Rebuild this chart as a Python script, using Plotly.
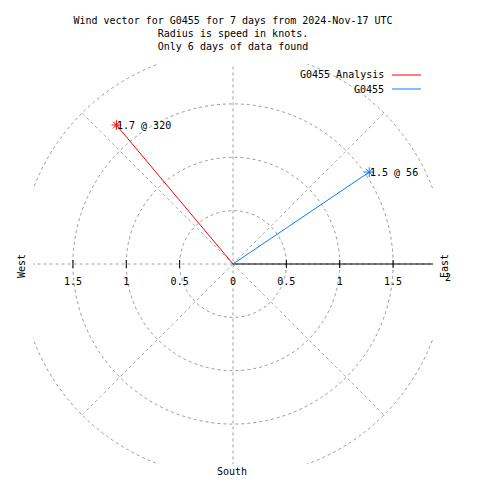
import numpy as np
import plotly.graph_objects as go

# ---- data ----
series_names = ["G0455 Analysis", "G0455"]
speeds_kt = [1.7, 1.54]
directions_deg = [320, 56]
tick_values = [-1.5, -1, -0.5, 0, 0.5, 1, 1.5]
tick_labels = ["1.5", "1", "0.5", "0", "0.5", "1", "1.5"]
grid_radii = [0.5, 1, 1.5, 2]
ray_angles_deg = [45, 135, 225, 315]
title_lines = ["Wind vector for G0455 for 7 days from 2024-Nov-17 UTC",
               "Radius is speed in knots.",
               "Only 6 days of data found"]

# ---- style ----
colors = ["#ff0000", "#0080ff"]
FONT = "DejaVu Sans Mono"
GRAY = "#a0a0a0"
R = 1.874
W, H = 480, 480
ML, MR, MT, MB = 33, 47, 64, 16


def px_x(px):
    return (px - ML) / (W - ML - MR)


def px_y(py):
    return (H - MB - py) / (H - MT - MB)


fig = go.Figure()
shapes = []
annotations = []

# grid
for r in grid_radii:
    shapes.append(dict(type="circle", xref="x", yref="y", x0=-r, y0=-r, x1=r, y1=r,
                       line=dict(color="#999999", width=1, dash="3px,3px"), layer="below"))
for a in ray_angles_deg:
    t = np.deg2rad(a)
    shapes.append(dict(type="line", xref="x", yref="y", x0=0, y0=0,
                       x1=2 * np.cos(t), y1=2 * np.sin(t),
                       line=dict(color="#b0b0b0", width=1, dash="3px,3px"), layer="below"))
shapes.append(dict(type="line", xref="x", yref="y", x0=-2, y0=0, x1=2, y1=0,
                   line=dict(color=GRAY, width=1, dash="3px,3px"), layer="below"))
shapes.append(dict(type="line", xref="x", yref="y", x0=0, y0=-2, x1=0, y1=2,
                   line=dict(color=GRAY, width=1, dash="3px,3px"), layer="below"))
# radial axis line (positive x)
shapes.append(dict(type="line", xref="x", yref="y", x0=0, y0=0, x1=R, y1=0,
                   line=dict(color="black", width=1), layer="below"))
for v in tick_values:
    if v == 0:
        continue
    shapes.append(dict(type="line", xref="x", yref="y", ysizemode="pixel", yanchor=0,
                       x0=v, x1=v, y0=-4, y1=4, line=dict(color="black", width=1)))

# vectors
for name, s, d, c in zip(series_names, speeds_kt, directions_deg, colors):
    t = np.deg2rad(d)
    x, y = s * np.sin(t), s * np.cos(t)
    fig.add_trace(go.Scatter(x=[0, x], y=[0, y], mode="lines", name=name,
                             line=dict(color=c, width=1), showlegend=False, hoverinfo="skip"))
    fig.add_trace(go.Scatter(x=[x], y=[y], mode="markers", name=name,
                             marker=dict(symbol="asterisk-open", size=8, color=c,
                                         line=dict(color=c, width=1)),
                             showlegend=False, hoverinfo="skip"))
    annotations.append(dict(x=x, y=y, xref="x", yref="y", text=f"{s:.1f} @ {d}",
                            showarrow=False, xanchor="left", yanchor="middle", xshift=-1,
                            font=dict(family=FONT, size=10, color="black")))

# legend (manual, gnuplot style)
legend_y_px = [75, 89]
for name, c, ly in zip(series_names, colors, legend_y_px):
    annotations.append(dict(x=px_x(386), y=px_y(ly), xref="paper", yref="paper", text=name,
                            showarrow=False, xanchor="right", yanchor="middle",
                            font=dict(family=FONT, size=10, color="black")))
    shapes.append(dict(type="line", xref="paper", yref="paper", x0=px_x(392), x1=px_x(421),
                       y0=px_y(ly), y1=px_y(ly), line=dict(color=c, width=1)))

# compass labels
annotations.append(dict(x=px_x(21), y=px_y(266), xref="paper", yref="paper", text="West",
                        textangle=-90, showarrow=False, xanchor="center", yanchor="middle",
                        font=dict(family=FONT, size=10, color="black")))
annotations.append(dict(x=px_x(444), y=px_y(266), xref="paper", yref="paper", text="East",
                        textangle=-90, showarrow=False, xanchor="center", yanchor="middle",
                        font=dict(family=FONT, size=10, color="black")))
annotations.append(dict(x=px_x(232), y=px_y(471), xref="paper", yref="paper", text="South",
                        showarrow=False, xanchor="center", yanchor="middle",
                        font=dict(family=FONT, size=10, color="black")))
annotations.append(dict(x=px_x(448), y=px_y(277), xref="paper", yref="paper", text="2",
                        showarrow=False, xanchor="center", yanchor="middle",
                        font=dict(family=FONT, size=10, color="black")))

fig.update_layout(
    width=W, height=H,
    margin=dict(l=ML, r=MR, t=MT, b=MB, pad=0),
    paper_bgcolor="white", plot_bgcolor="white",
    hovermode=False,
    title=dict(text="<br>".join(title_lines), x=0.5, xref="paper", xanchor="center",
               y=1 - 24 / H, yref="container", yanchor="top",
               font=dict(family=FONT, size=10, color="black")),
    xaxis=dict(range=[-R, R], anchor="free", position=0.5, tickmode="array",
               tickvals=tick_values, ticktext=tick_labels, ticks="",
               showline=False, showgrid=False, zeroline=False,
               ticklabelstandoff=10, fixedrange=True,
               tickfont=dict(family=FONT, size=10, color="black")),
    yaxis=dict(range=[-R, R], visible=False, showgrid=False, zeroline=False, fixedrange=True),
    shapes=shapes, annotations=annotations,
)

fig.write_html("out.html", config={"displayModeBar": False, "staticPlot": True},
               post_script="document.body.style.margin='0px';")
